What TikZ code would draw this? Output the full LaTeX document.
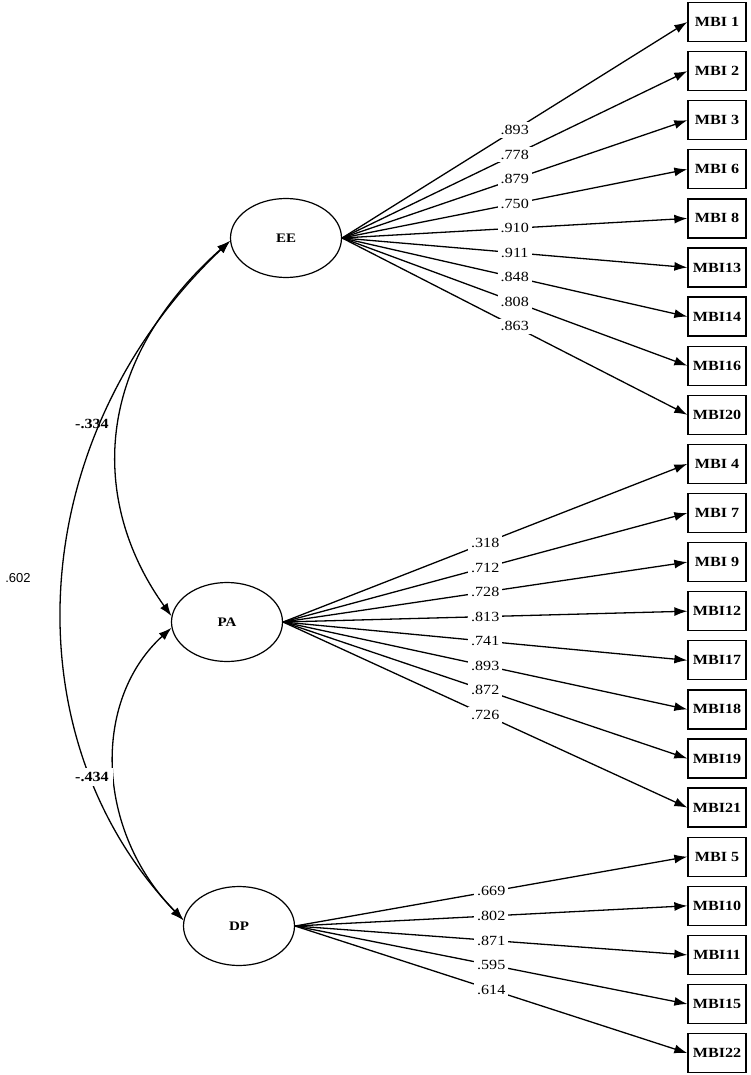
\documentclass[tikz,border=0pt]{standalone}
\usepackage{fontspec}
\setmainfont{Liberation Serif}[FakeStretch=1.15]
\newfontfamily\lblsans{Liberation Sans}
\usetikzlibrary{arrows.meta,shapes.geometric}
\begin{document}
\begin{tikzpicture}[x=1pt,y=-1pt,
  lat/.style={ellipse,draw,line width=1.2pt,minimum width=111pt,minimum height=79pt,inner sep=0pt,font=\bfseries\fontsize{13}{15}\selectfont},
  obs/.style={rectangle,draw,line width=1.3pt,minimum width=58pt,minimum height=39pt,inner sep=0pt,font=\bfseries\fontsize{14}{16}\selectfont},
  load/.style={line width=1.3pt,-{Latex[length=13pt,width=9pt]}},
  coef/.style={fill=white,inner sep=3pt,font=\fontsize{14}{16}\selectfont},
  cov/.style={line width=1.3pt,{Latex[length=13pt,width=9pt]}-{Latex[length=13pt,width=9pt]}},
  covlbl/.style={font=\bfseries\fontsize{14}{16}\selectfont}
]
\useasboundingbox (0,0) rectangle (750,1075);

% latent variables
\node[lat] (EE) at (286,238) {EE};
\node[lat] (PA) at (227,622) {PA};
\node[lat] (DP) at (239,926) {DP};

% observed variables
\foreach \n/\t [count=\i from 0] in {m1/MBI 1, m2/MBI 2, m3/MBI 3, m6/MBI 6, m8/MBI 8, m13/MBI13, m14/MBI14, m16/MBI16, m20/MBI20,
  m4/MBI 4, m7/MBI 7, m9/MBI 9, m12/MBI12, m17/MBI17, m18/MBI18, m19/MBI19, m21/MBI21,
  m5/MBI 5, m10/MBI10, m11/MBI11, m15/MBI15, m22/MBI22}
  \node[obs] (\n) at (717,{22+49.1*\i}) {\t};

% loadings
\foreach \n/\v in {m1/.893, m2/.778, m3/.879, m6/.750, m8/.910, m13/.911, m14/.848, m16/.808, m20/.863}
  \draw[load] (EE.east) -- node[coef] {\v} (\n.west);
\foreach \n/\v in {m4/.318, m7/.712, m9/.728, m12/.813, m17/.741, m18/.893, m19/.872, m21/.726}
  \draw[load] (PA.east) -- node[coef] {\v} (\n.west);
\foreach \n/\v in {m5/.669, m10/.802, m11/.871, m15/.595, m22/.614}
  \draw[load] (DP.east) -- node[coef] {\v} (\n.west);

% covariances
\node[covlbl] (l334) at (92,424) {-.334};
\draw[cov] (EE.183) .. controls (85,370) and (95,510) .. (PA.174);
\draw[cov] (EE.183) .. controls (20,440) and (10,740) .. (DP.174);
\draw[cov] (PA.186) .. controls (92,700) and (95,830) .. (DP.174);
\node[covlbl,fill=white,inner sep=4pt] (l434) at (92,777) {-.434};
\node[font=\lblsans\fontsize{13}{15}\selectfont] (l602) at (18,578) {.602};
\end{tikzpicture}
\end{document}
